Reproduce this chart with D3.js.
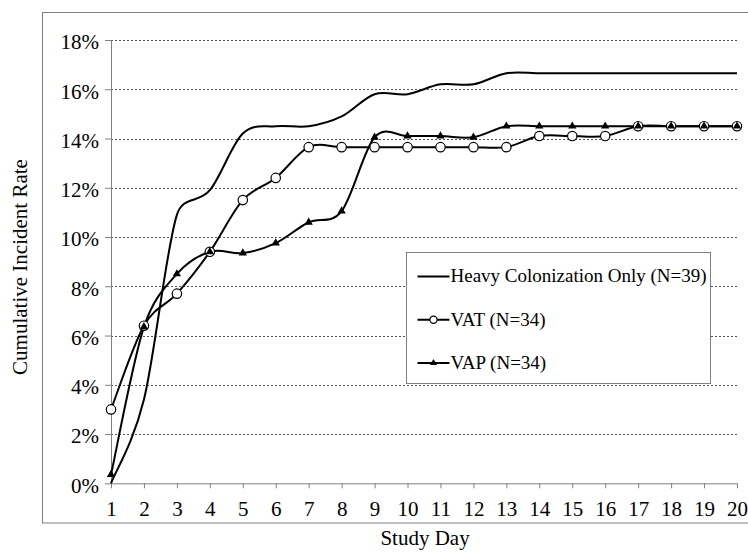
<!DOCTYPE html>
<html>
<head>
<meta charset="utf-8">
<script src="https://cdn.jsdelivr.net/npm/d3@7"></script>
<style>
  body { margin: 0; background: #fff; }
  svg { display: block; font-family: 'Liberation Serif', 'Times New Roman', serif; }
</style>
</head>
<body>
<div class="svg-container"></div>
<script>
const days = [1, 2, 3, 4, 5, 6, 7, 8, 9, 10, 11, 12, 13, 14, 15, 16, 17, 18, 19, 20]
const yTicks = [0, 2, 4, 6, 8, 10, 12, 14, 16, 18]

const heavy = [0, 3.4, 10.9, 11.9, 14.2, 14.5, 14.5, 14.9, 15.8, 15.8, 16.2, 16.2, 16.65, 16.65, 16.65, 16.65, 16.65, 16.65, 16.65, 16.65]
const vat = [3.0, 6.4, 7.7, 9.4, 11.5, 12.4, 13.65, 13.65, 13.65, 13.65, 13.65, 13.65, 13.65, 14.1, 14.1, 14.1, 14.5, 14.5, 14.5, 14.5]
const vap = [0.35, 6.35, 8.5, 9.4, 9.35, 9.75, 10.6, 11.05, 14.05, 14.1, 14.1, 14.05, 14.5, 14.5, 14.5, 14.5, 14.5, 14.5, 14.5, 14.5]

const seriesNames = ['Heavy Colonization Only (N=39)', 'VAT (N=34)', 'VAP (N=34)']

const svgWidth = 748
const svgHeight = 553
const gray = '#808080'

const svg = d3
  .select('.svg-container')
  .append('svg')
  .attr('width', svgWidth)
  .attr('height', svgHeight)

// chart area frame (right edge runs off the picture)
svg
  .append('rect')
  .attr('x', 42.5)
  .attr('y', 12.5)
  .attr('width', 760)
  .attr('height', 510.5)
  .attr('fill', 'none')
  .attr('stroke', gray)

const xScale = d3.scaleLinear([1, 20], [111, 737])
const yScale = d3.scaleLinear([0, 18], [483.3, 40])

// gridlines
svg
  .append('g')
  .selectAll('line')
  .data(yTicks.filter((d) => d > 0))
  .join('line')
  .attr('x1', xScale(1))
  .attr('x2', xScale(20))
  .attr('y1', (d) => Math.round(yScale(d)) + 0.5)
  .attr('y2', (d) => Math.round(yScale(d)) + 0.5)
  .attr('stroke', '#555')
  .attr('stroke-dasharray', '2,2')

const yAxis = svg
  .append('g')
  .attr('transform', `translate(${xScale(1)}, 0)`)
  .call(
    d3.axisLeft(yScale)
      .tickValues(yTicks)
      .tickFormat((d) => d + '%')
      .tickSize(6)
      .tickSizeOuter(0)
      .tickPadding(6)
  )

const xAxis = svg
  .append('g')
  .attr('transform', `translate(0, ${yScale(0)})`)
  .call(
    d3.axisBottom(xScale)
      .tickValues(days)
      .tickSize(5)
      .tickSizeOuter(0)
      .tickPadding(13)
  )

;[xAxis, yAxis].forEach((axis) => {
  axis.attr('font-family', null).attr('font-size', null)
  axis.selectAll('.domain, .tick line').attr('stroke', gray)
  axis.selectAll('.tick text').attr('fill', '#000').style('font-size', '21px')
})
yAxis.selectAll('.tick text').attr('dy', '0.42em')

svg
  .append('text')
  .attr('transform', 'translate(27, 267) rotate(-90)')
  .attr('text-anchor', 'middle')
  .style('font-size', '21px')
  .text('Cumulative Incident Rate')

svg
  .append('text')
  .attr('x', 425)
  .attr('y', 545)
  .attr('text-anchor', 'middle')
  .style('font-size', '21px')
  .text('Study Day')

// spreadsheet-style smoothing: cardinal bezier whose handles are capped
// at half the length of the segment they belong to
function smoothPath(values) {
  const pts = values.map((d, i) => [xScale(days[i]), yScale(d)])
  const dist = (a, b) => Math.hypot(a[0] - b[0], a[1] - b[1])
  const path = d3.path()
  path.moveTo(pts[0][0], pts[0][1])
  for (let i = 0; i < pts.length - 1; i++) {
    const p0 = pts[i - 1] || pts[i]
    const p1 = pts[i]
    const p2 = pts[i + 1]
    const p3 = pts[i + 2] || pts[i + 1]
    const d02 = dist(p0, p2)
    const d12 = dist(p1, p2)
    const d13 = dist(p1, p3)
    const f1 = d02 / 6 < d12 / 2 ? 1 / 6 : d12 / (2 * d02)
    const f2 = d13 / 6 < d12 / 2 ? 1 / 6 : d12 / (2 * d13)
    path.bezierCurveTo(
      p1[0] + (p2[0] - p0[0]) * f1, p1[1] + (p2[1] - p0[1]) * f1,
      p2[0] - (p3[0] - p1[0]) * f2, p2[1] - (p3[1] - p1[1]) * f2,
      p2[0], p2[1]
    )
  }
  return path.toString()
}

const triangle = d3.symbol(d3.symbolTriangle, 30)
const smallTriangle = d3.symbol(d3.symbolTriangle, 22)

;[heavy, vat, vap].forEach((values) => {
  svg
    .append('path')
    .attr('d', smoothPath(values))
    .attr('fill', 'none')
    .attr('stroke', '#000')
    .attr('stroke-width', 2)
})

svg
  .append('g')
  .selectAll('circle')
  .data(vat)
  .join('circle')
  .attr('cx', (d, i) => xScale(days[i]))
  .attr('cy', (d) => yScale(d))
  .attr('r', 4.7)
  .attr('fill', '#fff')
  .attr('stroke', '#000')
  .attr('stroke-width', 1.2)

svg
  .append('g')
  .selectAll('path')
  .data(vap)
  .join('path')
  .attr('transform', (d, i) => `translate(${xScale(days[i])}, ${yScale(d)})`)
  .attr('d', triangle)
  .attr('fill', '#000')

createLegend(svg, 406.5, 252.5)

function createLegend(svgElement, x, y) {
  const legend = svgElement
    .append('g')
    .attr('transform', `translate(${x}, ${y})`)

  legend
    .append('rect')
    .attr('width', 304)
    .attr('height', 131)
    .attr('fill', '#fff')
    .attr('stroke', gray)

  const rows = [24, 67.3, 110.5]

  seriesNames.forEach((name, index) => {
    const row = legend
      .append('g')
      .attr('transform', `translate(0, ${rows[index]})`)

    row
      .append('line')
      .attr('x1', 11)
      .attr('x2', 43)
      .attr('stroke', '#000')
      .attr('stroke-width', 2)

    if (index === 1) {
      row
        .append('circle')
        .attr('cx', 27)
        .attr('r', 3.6)
        .attr('fill', '#fff')
        .attr('stroke', '#000')
        .attr('stroke-width', 1.2)
    }
    if (index === 2) {
      row
        .append('path')
        .attr('transform', 'translate(27, 0)')
        .attr('d', smallTriangle)
        .attr('fill', '#000')
    }

    row
      .append('text')
      .attr('x', 44)
      .attr('dy', '0.3em')
      .style('font-size', '19px')
      .text(name)
  })
}
</script>
</body>
</html>
